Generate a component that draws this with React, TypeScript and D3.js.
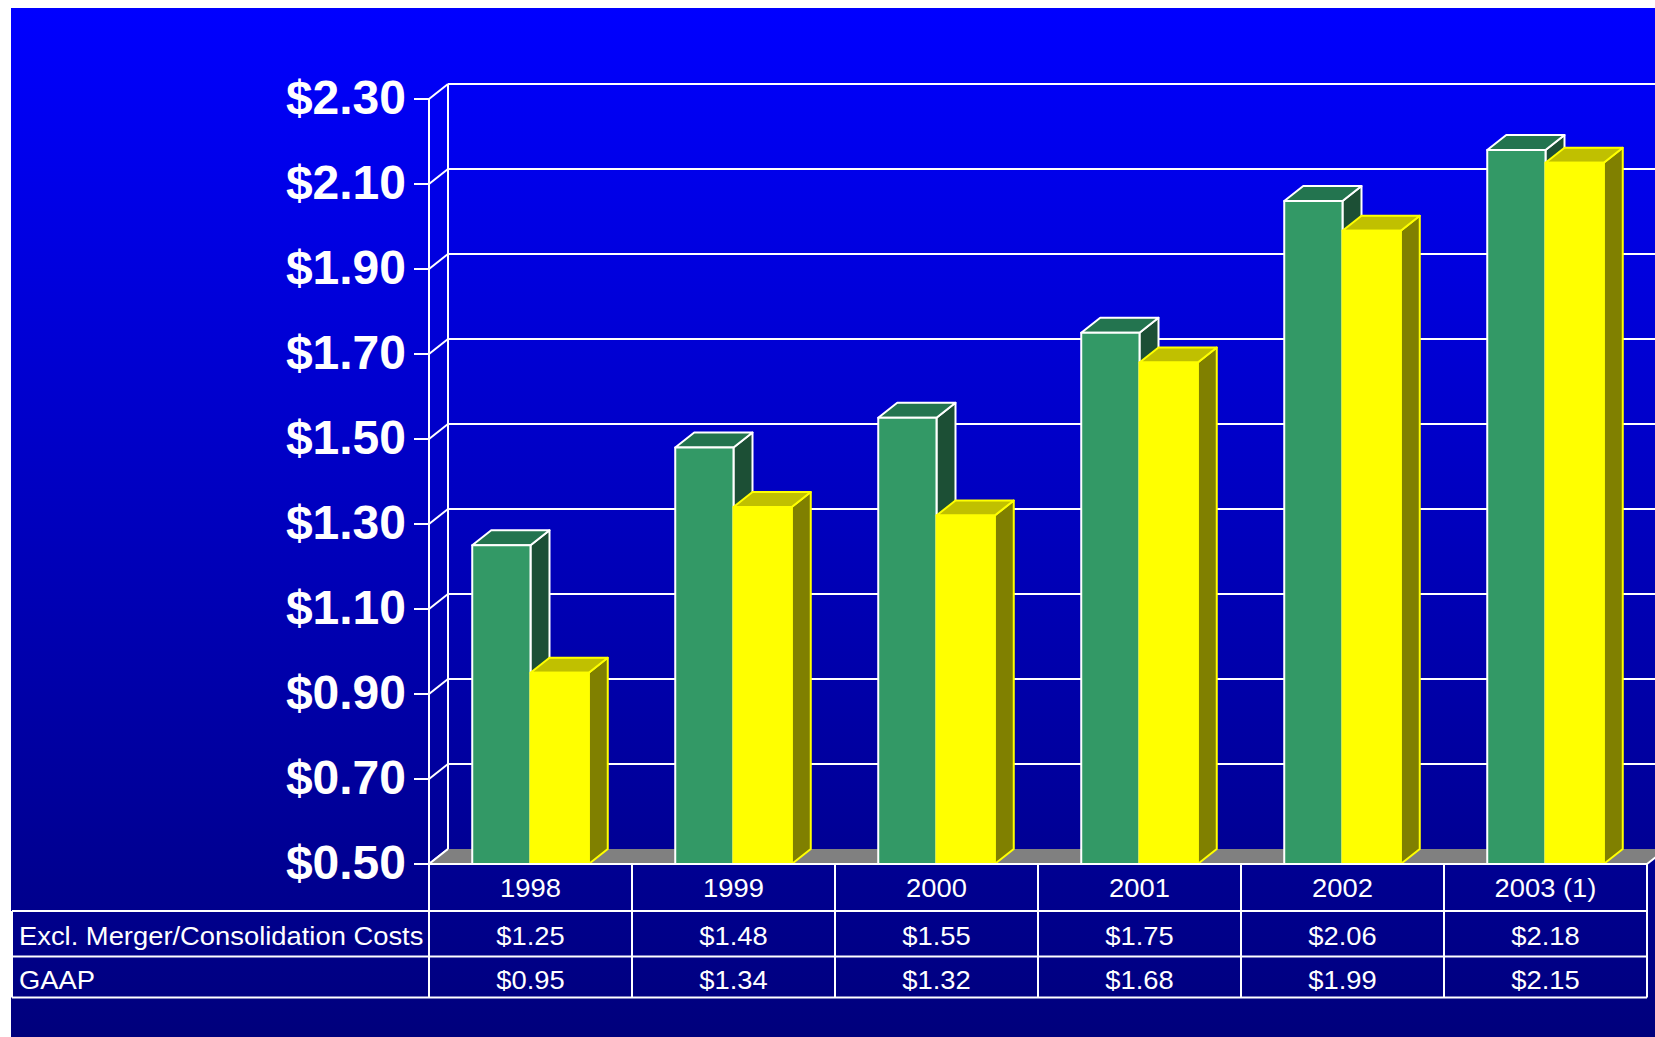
import React from 'react';
import * as d3 from 'd3';

const years = ['1998', '1999', '2000', '2001', '2002', '2003 (1)'];
const exclValues = [1.25, 1.48, 1.55, 1.75, 2.06, 2.18];
const gaapValues = [0.95, 1.34, 1.32, 1.68, 1.99, 2.15];
const seriesLabels = ['Excl. Merger/Consolidation Costs', 'GAAP'];
const yTicks = [0.5, 0.7, 0.9, 1.1, 1.3, 1.5, 1.7, 1.9, 2.1, 2.3];

const W = 1655;
const H = 1037;
const DX = 19;
const DY = -15;
const FONT = 'Arial, "Liberation Sans", sans-serif';

const fmt = d3.format('$.2f');

type Colors = { front: string; top: string; side: string; stroke: string };
const greenColors: Colors = { front: '#339966', top: '#23744f', side: '#1c4f35', stroke: '#ffffff' };
const yellowColors: Colors = { front: '#ffff00', top: '#c0c000', side: '#808000', stroke: '#ffff00' };

function Bar3D({ x0, w, yTop, yBase, c }: { x0: number; w: number; yTop: number; yBase: number; c: Colors }) {
  const pts = (a: number[][]) => a.map((p) => p.join(',')).join(' ');
  return (
    <g strokeWidth={2} stroke={c.stroke} strokeLinejoin="round">
      <polygon
        fill={c.side}
        points={pts([
          [x0 + w, yTop],
          [x0 + w + DX, yTop + DY],
          [x0 + w + DX, yBase + DY],
          [x0 + w, yBase],
        ])}
      />
      <polygon
        fill={c.top}
        points={pts([
          [x0, yTop],
          [x0 + DX, yTop + DY],
          [x0 + w + DX, yTop + DY],
          [x0 + w, yTop],
        ])}
      />
      <rect x={x0} y={yTop} width={w} height={yBase - yTop} fill={c.front} />
    </g>
  );
}

export default function App() {
  const axisX = 429;
  const plotRight = 1647;
  const y = d3.scaleLinear().domain([0.5, 2.3]).range([864, 99]);
  const x = d3.scaleBand<string>().domain(years).range([axisX, plotRight]).padding(0);
  const bw = x.bandwidth();
  const barW = bw * 0.287;
  const yBase = y(0.5);

  const tableTop = yBase;
  const row1 = 911;
  const row2 = 956.5;
  const row3 = 997.5;
  const tableLeft = 12;

  const textScale = 1.073;

  return (
    <svg width={W} height={H} style={{ position: 'absolute', left: 0, top: 0 }} fontFamily={FONT}>
      <defs>
        <linearGradient id="bg" x1="0" y1="0" x2="0" y2="1">
          <stop offset="0" stopColor="#0000ff" />
          <stop offset="1" stopColor="#00007c" />
        </linearGradient>
      </defs>
      <rect x={0} y={0} width={W} height={H} fill="#ffffff" />
      <rect x={11} y={8} width={W - 11} height={H - 8} fill="url(#bg)" />

      {/* back wall gridlines */}
      <g stroke="#ffffff" strokeWidth={2}>
        {yTicks.map((t) => (
          <g key={t}>
            <line x1={axisX - 15} x2={axisX} y1={y(t)} y2={y(t)} />
            <line x1={axisX} x2={axisX + DX} y1={y(t)} y2={y(t) + DY} />
            {t > 0.5 && <line x1={axisX + DX} x2={W + 20} y1={y(t) + DY} y2={y(t) + DY} />}
          </g>
        ))}
        <line x1={axisX + DX} x2={axisX + DX} y1={y(2.3) + DY} y2={yBase + DY} />
        <line x1={axisX} x2={axisX} y1={y(2.3)} y2={yBase} />
      </g>

      {/* floor */}
      <polygon
        fill="#808080"
        points={[
          [axisX, yBase],
          [axisX + DX, yBase + DY],
          [plotRight + DX, yBase + DY],
          [plotRight, yBase],
        ]
          .map((p) => p.join(','))
          .join(' ')}
      />
      <g stroke="#ffffff" strokeWidth={2}>
        <line x1={axisX} x2={axisX + DX} y1={yBase} y2={yBase + DY} />
        <line x1={plotRight} x2={plotRight + DX} y1={yBase} y2={yBase + DY} />
      </g>

      {/* bars */}
      {years.map((yr, i) => {
        const c = (x(yr) as number) + bw / 2;
        return (
          <g key={yr}>
            <Bar3D x0={c - barW} w={barW} yTop={y(exclValues[i])} yBase={yBase} c={greenColors} />
            <Bar3D x0={c} w={barW} yTop={y(gaapValues[i])} yBase={yBase} c={yellowColors} />
          </g>
        );
      })}

      {/* y tick labels */}
      {yTicks.map((t) => (
        <text
          key={t}
          x={406}
          y={y(t) + 15}
          textAnchor="end"
          fill="#ffffff"
          fontSize={48}
          fontWeight="bold"
        >
          {fmt(t)}
        </text>
      ))}

      {/* data table */}
      <g stroke="#ffffff" strokeWidth={2}>
        <line x1={axisX} x2={plotRight} y1={tableTop} y2={tableTop} />
        <line x1={tableLeft} x2={plotRight} y1={row1} y2={row1} />
        <line x1={tableLeft} x2={plotRight} y1={row2} y2={row2} />
        <line x1={tableLeft} x2={plotRight} y1={row3} y2={row3} />
        <line x1={tableLeft} x2={tableLeft} y1={row1} y2={row3} />
        {years.map((yr) => (
          <line key={yr} x1={x(yr)} x2={x(yr)} y1={tableTop} y2={row3} />
        ))}
        <line x1={plotRight} x2={plotRight} y1={tableTop} y2={row3} />
      </g>
      <g fill="#ffffff" fontSize={25.5}>
        {years.map((yr, i) => {
          const c = (x(yr) as number) + bw / 2;
          return (
            <g key={yr}>
              <g transform={`translate(${c},897) scale(${textScale},1)`}>
                <text textAnchor="middle">{yr}</text>
              </g>
              <g transform={`translate(${c},945) scale(${textScale},1)`}>
                <text textAnchor="middle">{fmt(exclValues[i])}</text>
              </g>
              <g transform={`translate(${c},988.5) scale(${textScale},1)`}>
                <text textAnchor="middle">{fmt(gaapValues[i])}</text>
              </g>
            </g>
          );
        })}
        <g transform={`translate(19,945) scale(${textScale},1)`}>
          <text>{seriesLabels[0]}</text>
        </g>
        <g transform={`translate(19,988.5) scale(${textScale},1)`}>
          <text>{seriesLabels[1]}</text>
        </g>
      </g>
    </svg>
  );
}
